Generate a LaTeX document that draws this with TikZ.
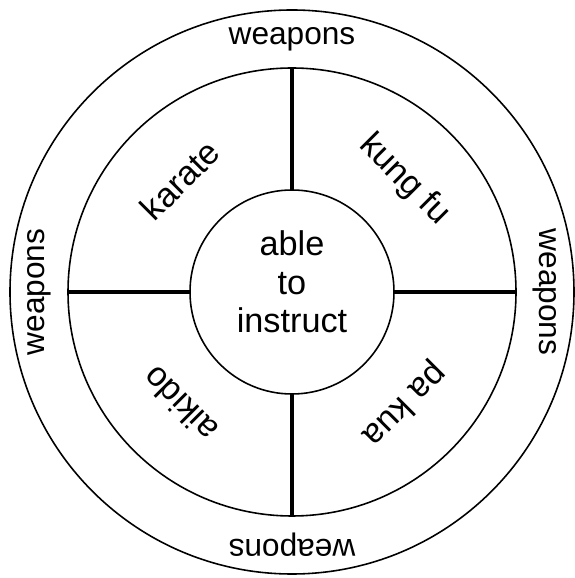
\documentclass[tikz,border=0pt]{standalone}
\usepackage{fontspec}
\setmainfont{Liberation Sans}

\begin{document}
\begin{tikzpicture}[
  every node/.style={font=\fontsize{18}{22}\selectfont},
  ringline/.style={draw, circle, line width=0.9pt, inner sep=0pt, outer sep=0pt},
  spoke/.style={line width=2.6pt},
  art/.style={font=\fontsize{19.5}{22}\selectfont},
]
\useasboundingbox (-5.84,-5.72) rectangle (5.64,5.84);
% the three rings
\node[ringline, minimum size=11.28cm] (rim) at (0,0) {};
\node[ringline, minimum size=8.96cm] (ring) at (0,0) {};
\node[ringline, minimum size=4.08cm] (hub) at (0,0) {};
\node[art, align=center] (core) at (0,0.2) {able\\to\\instruct};
% spokes from hub to ring
\foreach \side in {north,south,east,west} {
  \draw[spoke] (hub.\side) -- (ring.\side);
}
% weapons round the rim, tops facing out
\foreach \ang in {0,90,180,270} {
  \node[rotate=\ang-90] (wpn\ang) at (\ang:5.05) {weapons};
}
% arts in the quarters
\foreach \ang/\name in {45/kung fu, 135/karate, 225/aikido, 315/pa kua} {
  \node[art, rotate=\ang-90] (art\ang) at (\ang:3.17) {\name};
}
\end{tikzpicture}
\end{document}
